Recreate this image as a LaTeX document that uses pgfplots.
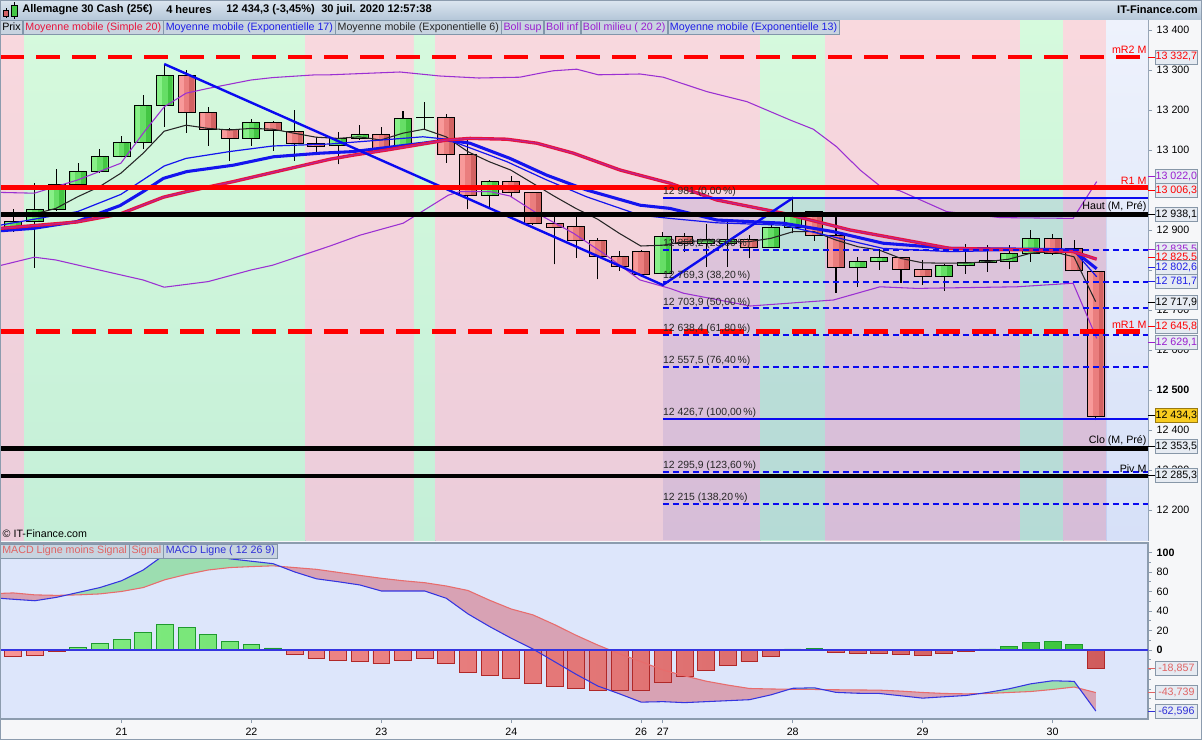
\documentclass[border=0pt]{standalone}
\usepackage{fontspec}
\setmainfont{Liberation Sans}
\usepackage{pgfplots}
\usepackage{pgfplotstable}
\pgfplotsset{compat=1.18}

\definecolor{pageBg}{HTML}{F6F7F9}
\definecolor{frameC}{HTML}{8C9CAE}
\definecolor{pinkT}{HTML}{F9D9DE}
\definecolor{pinkB}{HTML}{EBCCDA}
\definecolor{greenT}{HTML}{D6FADD}
\definecolor{greenB}{HTML}{C4EFD8}
\definecolor{blueT}{HTML}{EEF2FC}
\definecolor{blueB}{HTML}{D6E0F8}
\definecolor{fibTint}{HTML}{6369CF}
\definecolor{smaRed}{HTML}{E8143C}
\definecolor{emaBlue}{HTML}{1414EE}
\definecolor{bollP}{HTML}{9B30D2}
\definecolor{fibBlue}{HTML}{0A0AF0}
\definecolor{pivRed}{HTML}{FF0000}
\definecolor{gLite}{HTML}{88F088}
\definecolor{gMid}{HTML}{66DE66}
\definecolor{gDark}{HTML}{44C644}
\definecolor{rLite}{HTML}{F89A9A}
\definecolor{rMid}{HTML}{EA7E7E}
\definecolor{rDark}{HTML}{D26262}
\definecolor{candleGL}{HTML}{86EE86}
\definecolor{candleGR}{HTML}{3CC43C}
\definecolor{candleRL}{HTML}{F89494}
\definecolor{candleRR}{HTML}{D05C5C}
\definecolor{macdBg}{HTML}{DDE6FB}
\definecolor{macdLine}{HTML}{3535E0}
\definecolor{sigLine}{HTML}{E86C6C}
\definecolor{fillG}{HTML}{9CDDB0}
\definecolor{fillR}{HTML}{D8A2B4}
\definecolor{histGB}{HTML}{1E9A2E}
\definecolor{histRB}{HTML}{B02828}
\definecolor{titT}{HTML}{DCE6F0}
\definecolor{titB}{HTML}{B4C6D8}
\definecolor{legFill}{HTML}{C8D4E0}
\definecolor{legDraw}{HTML}{8296AA}
\definecolor{boxFill}{HTML}{E6EBF2}
\definecolor{boxDraw}{HTML}{8797A8}
\definecolor{legRed}{HTML}{E8143C}
\definecolor{legBlue}{HTML}{1E1EE6}
\definecolor{legPurp}{HTML}{9A1ED0}
\definecolor{macdTxtR}{HTML}{E06464}
\definecolor{macdTxtB}{HTML}{3030D8}
\definecolor{yelFill}{HTML}{F8CC20}
\definecolor{yelD}{HTML}{9A7A10}

% 4h candles, index 0..50
\pgfplotstableread{
i o h l c
0 12901.7 12951.7 12895.8 12921
1 12921 13016.7 12805.8 12951.7
2 12950.8 13052.5 12948.3 13014.2
3 13014.2 13066.7 13010.8 13046.7
4 13046.7 13102.5 13043.3 13084.2
5 13084.2 13135 13081.7 13119.2
6 13119.2 13237.5 13102.5 13211.7
7 13211.7 13315 13158.3 13286.7
8 13286.7 13300 13143.3 13194.2
9 13194.2 13206.7 13110 13151.7
10 13150 13154.2 13073.3 13129.2
11 13129.2 13176.7 13110 13169.2
12 13169.2 13172.5 13098.3 13147.5
13 13146.7 13200 13073.3 13116.7
14 13115.8 13131.7 13093.3 13109.2
15 13110 13144.2 13064.2 13129.2
16 13129.2 13162.5 13125 13139.2
17 13139.2 13158.3 13095.8 13104.2
18 13108.3 13197.5 13104.2 13179.2
19 13180.8 13219.2 13151.7 13180.8
20 13181.7 13190 13068.3 13089.2
21 13089.2 13126.7 12951.7 12986.7
22 12986.7 13025 12958.3 13021.7
23 13021.7 13035 12981.7 12994.2
24 12994.2 12994.2 12912.5 12916.7
25 12916.7 12933.3 12814.2 12906.7
26 12909.2 12933.3 12830.8 12874.2
27 12873.3 12879.2 12776.7 12834.2
28 12834.2 12848.3 12798.3 12809.2
29 12846.7 12850 12785 12787.5
30 12790 12895 12790 12883.3
31 12883.3 12891.7 12845.8 12865
32 12865 12914.2 12808.3 12875
33 12866 12922 12808 12876
34 12876.7 12887.5 12829.2 12856.7
35 12856.7 12916.7 12856.7 12906.7
36 12906.7 12979.2 12891.7 12933.3
37 12945.8 12948.3 12873.3 12886.7
38 12886.7 12933.3 12743.3 12806.7
39 12806.7 12831.7 12758.3 12820.8
40 12821.7 12851.7 12800 12831.7
41 12831.7 12831.7 12768.3 12801.7
42 12801.7 12825 12762.5 12783.3
43 12783.3 12814.2 12748.3 12811.7
44 12810.8 12865 12790 12819.2
45 12819.2 12862.5 12795.8 12823.3
46 12821.7 12862.5 12801.7 12841.7
47 12841.7 12900 12820.8 12879.2
48 12879.2 12889.2 12837.5 12841.7
49 12852.5 12875 12797.5 12797.5
50 12796.7 12796.7 12425 12434.3
}\ohlc

\pgfplotstableread{
i p
-0.614 12904
2.93 12920
4.93 12940
6.93 12982
8.01 12996
10.16 13021
12.47 13050
14.63 13077
15.69 13087
17.25 13100
19.25 13118
20.02 13125
21.09 13129
22.79 13127
24.18 13117
25.87 13092
28.02 13050
30.33 13017
32.49 12975
35.55 12942
38.65 12900
43.27 12854
47.1 12850
48.95 12846
50.04 12827
}\smaT

\pgfplotstableread{
i p
-0.614 12898
0.92 12904
2.93 12921
4.93 12961
6.0 12996
6.93 13029
8.01 13046
10.16 13062
12.01 13083
14.17 13092
15.69 13096
18.92 13117
20.02 13125
21.09 13117
22.94 13079
24.64 13037
26.48 13000
28.95 12962
30.33 12954
32.49 12925
35.57 12917
37.86 12896
40.17 12867
43.27 12854
47.1 12852
48.95 12850
50.04 12803
}\emaS

\pgfplotstableread{
i p
-0.614 12912
2.97 12946
4.97 12989
6.97 13060
7.98 13079
9.98 13096
11.98 13110
14.63 13115
17.25 13126
18.92 13133
20.02 13127
22.79 13071
24.64 13025
26.48 12983
28.95 12937
30.33 12929
32.49 12918
35.57 12912
37.86 12883
40.17 12854
43.27 12846
47.1 12850
48.95 12850
50.04 12783
}\emaT

\pgfplotstableread{
i p
-0.614 12935
0.97 12940
1.97 12954
2.97 12983
3.97 13008
4.97 13042
6.0 13092
6.97 13147
7.98 13162
9.0 13154
9.98 13150
10.98 13154
11.98 13152
12.97 13142
13.98 13132
15.01 13129
15.97 13133
16.97 13125
17.99 13142
18.97 13152
19.99 13133
20.99 13096
21.97 13071
22.97 13050
23.99 13017
24.97 12985
25.98 12954
26.99 12927
27.98 12892
28.98 12860
30.0 12862
30.98 12871
32.0 12873
33.0 12871
34.0 12871
34.98 12879
36.03 12896
36.98 12896
37.99 12875
39.02 12858
39.99 12850
40.99 12829
42.0 12818
42.97 12817
43.98 12817
44.98 12821
45.98 12827
46.99 12842
48.0 12846
48.99 12833
49.99 12721
}\emaSix

\pgfplotstableread{
i p
-0.614 12994
0.97 12992
2.97 13025
4.97 13067
6.0 13142
6.97 13208
7.98 13242
9.0 13254
10.98 13275
11.98 13281
13.98 13288
14.63 13288
17.86 13295
19.7 13285
21.5 13280
23.4 13282
24.33 13292
24.94 13298
26.02 13302
27.02 13288
28.95 13290
30.02 13282
32.03 13246
33.88 13221
35.88 13175
36.95 13152
38.03 13108
39.11 13050
40.03 13010
40.95 12998
43.11 12946
45.58 12931
48.95 12929
50.04 13021
}\bollUp

\pgfplotstableread{
i p
-0.614 12811
0.97 12832
1.97 12825
3.97 12800
6.0 12775
6.97 12757
9.0 12771
10.98 12800
11.98 12812
14.63 12860
16.01 12887
18.01 12917
20.09 12987
20.63 12996
22.02 12996
22.94 12985
24.18 12942
25.87 12892
27.25 12842
28.95 12775
30.33 12754
30.95 12742
34.03 12710
37.88 12725
40.03 12758
41.73 12754
46.35 12758
48.95 12767
50.04 12629
}\bollLo

\pgfplotstableread{
i m s
-0.614 53 58
0 52 58.5
1 50.5 56.5
2 54 56
3 59 56.5
4 64 57.5
5 71 60
6 82 64
7 98 72
8 101 77.5
9 98 82
10 93.5 84.5
11 91 85.5
12 88.5 86.3
13 80 84.5
14 73 82.7
15 70 79.6
16 66.7 76.5
17 60.5 73.5
18 60.5 71
19 60.5 69
20 53 65.6
21 37 61
22 24 51
23 12 42
24 1 36
25 -12 26
26 -25 15
27 -37 5
28 -45 -4
29 -53.5 -12
30 -53 -20.5
31 -54 -26.5
32 -53 -32
33 -52 -36
34 -51 -39.5
35 -46 -40
36 -39.3 -40.3
37 -38.8 -40.5
38 -43.5 -40.8
39 -44.4 -41
40 -44.6 -41.2
41 -47 -42.2
42 -49.4 -43.6
43 -48 -44.6
44 -46.7 -45
45 -43.6 -44.6
46 -39.8 -43.6
47 -34.7 -42.6
48 -31.6 -40.5
49 -32.2 -38
50 -62.6 -43.7
}\macd

% area between MACD line and signal: MACD forward, signal back
\pgfplotstableread{
x y
-0.614 53
0 52
1 50.5
2 54
3 59
4 64
5 71
6 82
7 98
8 101
9 98
10 93.5
11 91
12 88.5
13 80
14 73
15 70
16 66.7
17 60.5
18 60.5
19 60.5
20 53
21 37
22 24
23 12
24 1
25 -12
26 -25
27 -37
28 -45
29 -53.5
30 -53
31 -54
32 -53
33 -52
34 -51
35 -46
36 -39.3
37 -38.8
38 -43.5
39 -44.4
40 -44.6
41 -47
42 -49.4
43 -48
44 -46.7
45 -43.6
46 -39.8
47 -34.7
48 -31.6
49 -32.2
50 -62.6
50 -43.7
49 -38
48 -40.5
47 -42.6
46 -43.6
45 -44.6
44 -45
43 -44.6
42 -43.6
41 -42.2
40 -41.2
39 -41
38 -40.8
37 -40.5
36 -40.3
35 -40
34 -39.5
33 -36
32 -32
31 -26.5
30 -20.5
29 -12
28 -4
27 5
26 15
25 26
24 36
23 42
22 51
21 61
20 65.6
19 69
18 71
17 73.5
16 76.5
15 79.6
14 82.7
13 84.5
12 86.3
11 85.5
10 84.5
9 82
8 77.5
7 72
6 64
5 60
4 57.5
3 56.5
2 56
1 56.5
0 58.5
-0.614 58
}\bandR

% stretches where the MACD line is above its signal
\pgfplotstableread{
x y
2.44 56.2
3 59
4 64
5 71
6 82
7 98
8 101
9 98
10 93.5
11 91
12 88.5
12.33 85.7
12 86.3
11 85.5
10 84.5
9 82
8 77.5
7 72
6 64
5 60
4 57.5
3 56.5
}\lobeA

\pgfplotstableread{
x y
35.86 -40.24
36 -39.3
37 -38.8
37.39 -40.63
37 -40.5
36 -40.3
}\lobeB

\pgfplotstableread{
x y
44.63 -44.75
45 -43.6
46 -39.8
47 -34.7
48 -31.6
49 -32.2
49.23 -39.2
49 -38
48 -40.5
47 -42.6
46 -43.6
45 -44.6
}\lobeC

\pgfplotstableread{
i h
0 -6.8
1 -5.8
2 -1.7
3 2.7
4 6.8
5 10.9
6 18.1
7 26.3
8 23.2
9 16.1
10 8.9
11 5.8
12 2.1
13 -4.8
14 -8.9
15 -10.9
16 -12
17 -14
18 -10.9
19 -8.9
20 -14
21 -23.2
22 -26.3
23 -29.4
24 -34.5
25 -37.6
26 -39.7
27 -41.7
28 -41.7
29 -41.7
30 -33.5
31 -27.4
32 -20.9
33 -16.1
34 -11.6
35 -6.5
36 1
37 1.7
38 -2.7
39 -3.4
40 -3.4
41 -4.8
42 -5.8
43 -3.4
44 -1.7
45 1
46 3.8
47 7.9
48 8.9
49 5.8
50 -18.9
}\hist

\newcommand{\fs}{\fontsize{8}{9.6}\selectfont}
\tikzset{
  valbox/.style={anchor=west, draw=boxDraw, line width=0.5pt, fill=boxFill,
    minimum width=32pt, minimum height=10.5pt, inner sep=0pt, xshift=5pt, font=\fs},
  leg/.style={anchor=north west, draw=legDraw, line width=0.5pt, fill=legFill, font=\fs,
    inner xsep=1.5pt, inner ysep=0pt, minimum height=10.5pt, text height=6.2pt, text depth=1.6pt},
  pivlab/.style={anchor=south east, inner sep=0pt, font=\fs, yshift=2.2pt, xshift=-1pt},
  fiblab/.style={anchor=base west, inner sep=0pt, font=\fontsize{7.8}{9}\selectfont, yshift=2.5pt, text=black!85},
  ttl/.style={anchor=west, inner sep=0pt, font=\bfseries\fontsize{8.3}{10}\selectfont},
}
% value box at a coordinate named inside an axis
\newcommand{\valb}[3]{%
  \draw[#2, line width=0.6pt] (#1) -- ++(5pt,0);
  \node[valbox, text=#2] at (#1) {#3};}

\pgfplotsset{
  candle/.style={mark=none, mark size=0pt, mark options={draw=none, fill=none},
    only marks, mark=none,
    error bars/.cd, y dir=plus, y explicit, error mark=none,
    error mark options={draw=none, fill=none, mark size=0pt}},
}

\begin{document}
\begin{tikzpicture}
\fill[pageBg] (0pt,0pt) rectangle (901.5pt,555pt);

% ================= MACD panel (px 543..719 from the top)
\begin{axis}[name=macdax, at={(0pt,15.75pt)}, anchor=south west, scale only axis,
  width=861pt, height=132pt,
  xmin=-0.614, xmax=52.41, ymin=-70.8, ymax=109.7,
  axis background/.style={fill=macdBg},
  axis line style={frameC, line width=0.8pt},
  xtick={5,11,17,23,29,30,36,42,48},
  xticklabels={21,22,23,24,26,27,28,29,30},
  ytick={0,20,...,100},
  yticklabels={\textbf{0},20,40,60,80,\textbf{100}},
  minor ytick={-60,-50,...,100},
  xtick pos=left, ytick pos=right, yticklabel pos=right,
  tick align=outside, major tick length=3pt, minor tick length=2pt,
  tick style={frameC, line width=0.6pt},
  ticklabel style={font=\fs},
]
\addplot[fill=fillR, draw=none] table[x=x, y=y] {\bandR};
\addplot[fill=fillG, draw=none] table[x=x, y=y] {\lobeA};
\addplot[fill=fillG, draw=none] table[x=x, y=y] {\lobeB};
\addplot[fill=fillG, draw=none] table[x=x, y=y] {\lobeC};
\addplot[ybar, bar width=0.78, bar shift=0pt, draw=histGB, line width=0.6pt,
  left color=candleGL, right color=candleGR]
  table[x=i, y expr={max(\thisrow{h},0)}] {\hist};
\addplot[ybar, bar width=0.78, bar shift=0pt, draw=histRB, line width=0.6pt,
  left color=candleRL, right color=candleRR]
  table[x=i, y expr={min(\thisrow{h},0)}] {\hist};
\addplot[sigLine, line width=0.8pt] table[x=i, y=s] {\macd};
\addplot[macdLine, line width=0.8pt] table[x=i, y=m] {\macd};
\addplot[macdLine, line width=1pt] coordinates {(-0.614,0) (52.41,0)};
\coordinate (m1) at (axis cs:52.41,-18.857);
\coordinate (m2) at (axis cs:52.41,-43.739);
\coordinate (m3) at (axis cs:52.41,-62.596);
\end{axis}

% ================= price panel (px 20..540 from the top)
\begin{axis}[name=price, at={(0pt,540pt)}, anchor=north west, scale only axis,
  width=861pt, height=390pt,
  xmin=-0.614, xmax=52.41, ymin=12125, ymax=13425,
  clip=false,
  axis line style={frameC, line width=0.8pt},
  xtick=\empty,
  ytick={12200,12300,...,13400},
  yticklabels={12 200,12 300,12 400,\textbf{12 500},12 600,12 700,12 800,12 900,13 000,13 100,13 200,13 300,13 400},
  ytick pos=right, yticklabel pos=right,
  tick align=outside, major tick length=3pt,
  tick style={frameC, line width=0.6pt},
  yticklabel style={font=\fs},
]
% trading sessions
\shade[top color=pinkT, bottom color=pinkB] (axis cs:-0.614,12125) rectangle (axis cs:0.5,13425);
\shade[top color=greenT, bottom color=greenB] (axis cs:0.5,12125) rectangle (axis cs:13.5,13425);
\shade[top color=pinkT, bottom color=pinkB] (axis cs:13.5,12125) rectangle (axis cs:18.5,13425);
\shade[top color=greenT, bottom color=greenB] (axis cs:18.5,12125) rectangle (axis cs:19.5,13425);
\shade[top color=pinkT, bottom color=pinkB] (axis cs:19.5,12125) rectangle (axis cs:34.5,13425);
\shade[top color=greenT, bottom color=greenB] (axis cs:34.5,12125) rectangle (axis cs:37.5,13425);
\shade[top color=pinkT, bottom color=pinkB] (axis cs:37.5,12125) rectangle (axis cs:46.5,13425);
\shade[top color=greenT, bottom color=greenB] (axis cs:46.5,12125) rectangle (axis cs:48.5,13425);
\shade[top color=pinkT, bottom color=pinkB] (axis cs:48.5,12125) rectangle (axis cs:50.5,13425);
\shade[top color=blueT, bottom color=blueB] (axis cs:50.5,12125) rectangle (axis cs:52.41,13425);
\fill[fibTint, opacity=0.15] (axis cs:30,12125) rectangle (axis cs:50.5,12981);

% wicks
\addplot[candle, error bar style={black, line width=0.8pt}]
  table[x=i, y=l, y error expr=\thisrow{h}-\thisrow{l}] {\ohlc};
% body outline
\addplot[candle, error bar style={black, line width=13.5pt}]
  table[x=i, y expr={min(\thisrow{o},\thisrow{c})-1.25}, y error expr={abs(\thisrow{c}-\thisrow{o})+2.5}] {\ohlc};
% rising bodies
\addplot[candle, error bar style={gMid, line width=12pt}]
  table[x=i, y expr={\thisrow{o}+1.25}, y error expr={max(\thisrow{c}-\thisrow{o}-2.5,0)}] {\ohlc};
\addplot[candle, error bar style={gLite, line width=3.6pt}]
  table[x expr=\thisrow{i}-0.24, y expr={\thisrow{o}+1.25}, y error expr={max(\thisrow{c}-\thisrow{o}-2.5,0)}] {\ohlc};
\addplot[candle, error bar style={gDark, line width=3.6pt}]
  table[x expr=\thisrow{i}+0.24, y expr={\thisrow{o}+1.25}, y error expr={max(\thisrow{c}-\thisrow{o}-2.5,0)}] {\ohlc};
% falling bodies
\addplot[candle, error bar style={rMid, line width=12pt}]
  table[x=i, y expr={\thisrow{c}+1.25}, y error expr={max(\thisrow{o}-\thisrow{c}-2.5,0)}] {\ohlc};
\addplot[candle, error bar style={rLite, line width=3.6pt}]
  table[x expr=\thisrow{i}-0.24, y expr={\thisrow{c}+1.25}, y error expr={max(\thisrow{o}-\thisrow{c}-2.5,0)}] {\ohlc};
\addplot[candle, error bar style={rDark, line width=3.6pt}]
  table[x expr=\thisrow{i}+0.24, y expr={\thisrow{c}+1.25}, y error expr={max(\thisrow{o}-\thisrow{c}-2.5,0)}] {\ohlc};

% indicators
\addplot[bollP, line width=0.8pt] table[x=i, y=p] {\bollUp};
\addplot[bollP, line width=0.8pt] table[x=i, y=p] {\bollLo};
\addplot[black!85, line width=0.8pt] table[x=i, y=p] {\emaSix};
\addplot[emaBlue, line width=0.9pt] table[x=i, y=p] {\emaT};
\addplot[emaBlue, line width=2.3pt] table[x=i, y=p] {\emaS};
\addplot[smaRed, line width=2.5pt] table[x=i, y=p] {\smaT};
\addplot[bollP, line width=0.8pt, opacity=0.6] table[x=i, y=p] {\smaT};
% zigzag
\addplot[fibBlue, line width=1.8pt] coordinates {(6.97,13315) (30,12762.5) (36.03,12981)};
% fibonacci levels
\addplot[fibBlue, line width=1.5pt] coordinates {(30,12981) (52.41,12981)};
\addplot[fibBlue, line width=1.5pt] coordinates {(30,12426.7) (52.41,12426.7)};
\addplot[fibBlue, line width=1.5pt, dash pattern=on 4.5pt off 3pt] coordinates {(30,12850.2) (52.41,12850.2)};
\addplot[fibBlue, line width=1.5pt, dash pattern=on 4.5pt off 3pt] coordinates {(30,12769.3) (52.41,12769.3)};
\addplot[fibBlue, line width=1.5pt, dash pattern=on 4.5pt off 3pt] coordinates {(30,12703.9) (52.41,12703.9)};
\addplot[fibBlue, line width=1.5pt, dash pattern=on 4.5pt off 3pt] coordinates {(30,12638.4) (52.41,12638.4)};
\addplot[fibBlue, line width=1.5pt, dash pattern=on 4.5pt off 3pt] coordinates {(30,12557.5) (52.41,12557.5)};
\addplot[fibBlue, line width=1.5pt, dash pattern=on 4.5pt off 3pt] coordinates {(30,12295.9) (52.41,12295.9)};
\addplot[fibBlue, line width=1.5pt, dash pattern=on 4.5pt off 3pt] coordinates {(30,12215) (52.41,12215)};
% monthly pivots
\addplot[pivRed, line width=3.4pt, dash pattern=on 18pt off 9pt] coordinates {(-0.614,13332.7) (52.41,13332.7)};
\addplot[pivRed, line width=3.4pt] coordinates {(-0.614,13006.3) (52.41,13006.3)};
\addplot[black, line width=3.4pt] coordinates {(-0.614,12938.1) (52.41,12938.1)};
\addplot[pivRed, line width=3.4pt, dash pattern=on 18pt off 9pt] coordinates {(-0.614,12645.8) (52.41,12645.8)};
\addplot[black, line width=3.4pt] coordinates {(-0.614,12353.5) (52.41,12353.5)};
\addplot[black, line width=3.4pt] coordinates {(-0.614,12285.3) (52.41,12285.3)};

\node[pivlab, text=pivRed] at (axis cs:52.41,13332.7) {mR2 M};
\node[pivlab, text=pivRed] at (axis cs:52.41,13006.3) {R1 M};
\node[pivlab] at (axis cs:52.41,12938.1) {Haut (M, Pré)};
\node[pivlab, text=pivRed] at (axis cs:52.41,12645.8) {mR1 M};
\node[pivlab] at (axis cs:52.41,12353.5) {Clo (M, Pré)};
\node[pivlab] at (axis cs:52.41,12285.3) {Piv M};

\node[fiblab] at (axis cs:30,12981) {12 981 (0,00\,\%)};
\node[fiblab] at (axis cs:30,12850.2) {12 850,2 (23,60\,\%)};
\node[fiblab] at (axis cs:30,12769.3) {12 769,3 (38,20\,\%)};
\node[fiblab] at (axis cs:30,12703.9) {12 703,9 (50,00\,\%)};
\node[fiblab] at (axis cs:30,12638.4) {12 638,4 (61,80\,\%)};
\node[fiblab] at (axis cs:30,12557.5) {12 557,5 (76,40\,\%)};
\node[fiblab] at (axis cs:30,12426.7) {12 426,7 (100,00\,\%)};
\node[fiblab] at (axis cs:30,12295.9) {12 295,9 (123,60\,\%)};
\node[fiblab] at (axis cs:30,12215) {12 215 (138,20\,\%)};

\node[anchor=west, inner sep=0pt, font=\fs] at (axis cs:-0.5,12140) {© IT-Finance.com};

\coordinate (v1) at (axis cs:52.41,13332.7);
\coordinate (v2) at (axis cs:52.41,13033);
\coordinate (v3) at (axis cs:52.41,13000);
\coordinate (v4) at (axis cs:52.41,12940);
\coordinate (v5) at (axis cs:52.41,12852.5);
\coordinate (v6) at (axis cs:52.41,12832.5);
\coordinate (v7) at (axis cs:52.41,12806.7);
\coordinate (v8) at (axis cs:52.41,12770.8);
\coordinate (v9) at (axis cs:52.41,12719);
\coordinate (v10) at (axis cs:52.41,12658);
\coordinate (v11) at (axis cs:52.41,12618);
\coordinate (v12) at (axis cs:52.41,12435.8);
\coordinate (v13) at (axis cs:52.41,12358);
\coordinate (v14) at (axis cs:52.41,12287.5);
\end{axis}

% value boxes on the price scales
\valb{v1}{pivRed}{13 332,7}
\valb{v2}{legPurp}{13 022,0}
\valb{v3}{pivRed}{13 006,3}
\valb{v4}{black}{12 938,1}
\valb{v5}{legPurp}{12 835,5}
\valb{v6}{pivRed}{12 825,5}
\valb{v7}{legBlue}{12 802,6}
\valb{v8}{legBlue}{12 781,7}
\valb{v9}{black}{12 717,9}
\valb{v10}{pivRed}{12 645,8}
\valb{v11}{legPurp}{12 629,1}
\draw[black, line width=0.6pt] (v12) -- ++(5pt,0);
\node[valbox, fill=yelFill, draw=yelD, text=black] at (v12) {12 434,3};
\valb{v13}{black}{12 353,5}
\valb{v14}{black}{12 285,3}
\valb{m1}{macdTxtR}{-18,857}
\valb{m2}{macdTxtR}{-43,739}
\valb{m3}{macdTxtB}{-62,596}

\begin{scope}[x=0.75pt,y=0.75pt]
\shade[top color=titT, bottom color=titB] (0,720) rectangle (1202,740);
% title icon
\draw[black, line width=0.5pt] (6,722) -- (6,732);
\filldraw[draw=black, line width=0.4pt, fill=rDark] (3.5,723.5) rectangle (8.5,729.5);
\draw[black, line width=0.5pt] (14,721) -- (14,738);
\filldraw[draw=black, line width=0.4pt, fill=gDark] (11,724) rectangle (17,735);
\node[ttl] at (22,730) {Allemagne 30 Cash (25€)};
\node[ttl] at (166,730) {4 heures};
\node[ttl] at (226,730) {12 434,3 (-3,45\%)};
\node[ttl] at (321,730) {30 juil. 2020 12:57:38};
\node[ttl, anchor=east] at (1198,730) {IT-Finance.com};

% legends
\node[leg] (a1) at (0,720) {Prix};
\node[leg, text=legRed] (a2) at (a1.north east) {Moyenne mobile (Simple 20)};
\node[leg, text=legBlue] (a3) at (a2.north east) {Moyenne mobile (Exponentielle 17)};
\node[leg, text=black!85] (a4) at (a3.north east) {Moyenne mobile (Exponentielle 6)};
\node[leg, text=legPurp] (a5) at (a4.north east) {Boll sup};
\node[leg, text=legPurp] (a6) at (a5.north east) {Boll inf};
\node[leg, text=legPurp] (a7) at (a6.north east) {Boll milieu ( 20 2)};
\node[leg, text=legBlue] (a8) at (a7.north east) {Moyenne mobile (Exponentielle 13)};

\node[leg, text=macdTxtR] (b1) at (0,196.5) {MACD Ligne moins Signal};
\node[leg, text=macdTxtR] (b2) at (b1.north east) {Signal};
\node[leg, text=macdTxtB] (b3) at (b2.north east) {MACD Ligne ( 12 26 9)};

\draw[frameC, line width=0.8pt] (0.4,0.4) rectangle (1201.6,739.6);
\end{scope}
\pgfresetboundingbox
\path[use as bounding box] (0pt,0pt) rectangle (901.5pt,555pt);
\end{tikzpicture}
\end{document}
